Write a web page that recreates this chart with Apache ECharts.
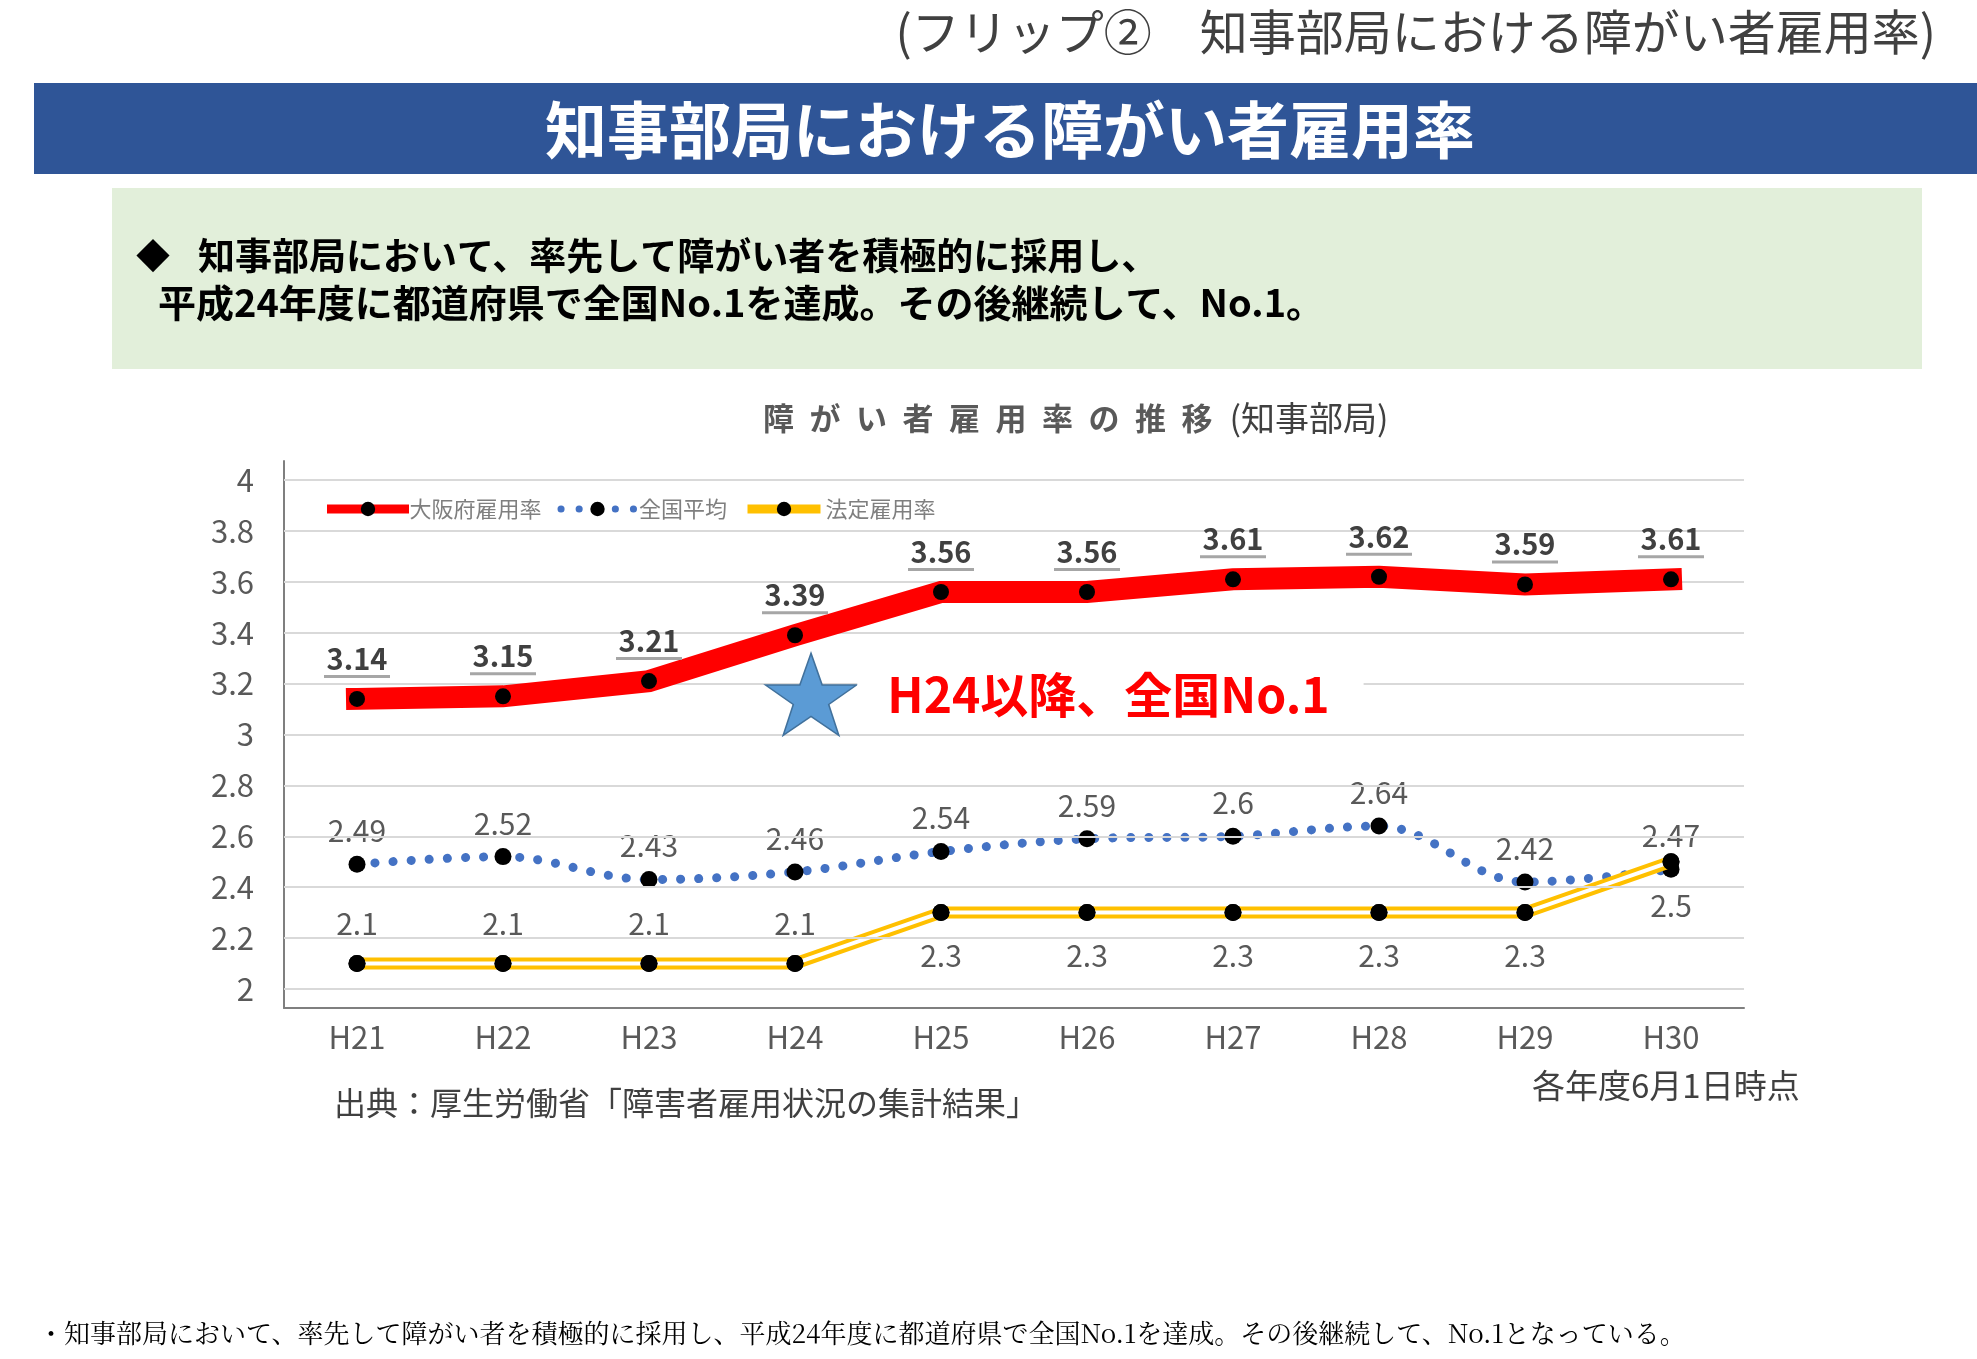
<!doctype html>
<html lang="ja">
<head>
<meta charset="UTF-8">
<title>知事部局における障がい者雇用率</title>
<script src="https://cdn.jsdelivr.net/npm/echarts@6/dist/echarts.min.js"></script>
<style>
  html, body { margin: 0; padding: 0; background: #fff; }
  #main { width: 1977px; height: 1359px; }
</style>
</head>
<body>
<div id="main"></div>
<script>
// 年度
const years = ['H21', 'H22', 'H23', 'H24', 'H25', 'H26', 'H27', 'H28', 'H29', 'H30'];
// 大阪府雇用率
const osakaRate = [3.14, 3.15, 3.21, 3.39, 3.56, 3.56, 3.61, 3.62, 3.59, 3.61];
// 全国平均
const nationalAvg = [2.49, 2.52, 2.43, 2.46, 2.54, 2.59, 2.6, 2.64, 2.42, 2.47];
// 法定雇用率
const legalRate = [2.1, 2.1, 2.1, 2.1, 2.3, 2.3, 2.3, 2.3, 2.3, 2.5];
// 縦軸の目盛
const yTicks = [2, 2.2, 2.4, 2.6, 2.8, 3, 3.2, 3.4, 3.6, 3.8, 4];
// 星マークの位置
const noteYear = 'H24';
const noteValue = 3.15;

const FONT = '"Noto Sans CJK JP", "Noto Sans", sans-serif';
const starPath = 'path://M50,0 L61.8,35.1 L98.1,35.1 L68.7,56.8 L79.4,91 L50,70 L20.6,91 L31.3,56.8 L1.9,35.1 L38.2,35.1 Z';

let myChart = echarts.init(document.getElementById('main'));

let option = {
    animation: false,
    backgroundColor: '#fff',
    textStyle: { fontFamily: FONT },
    graphic: [
        {
            type: 'text', x: 1936, y: 32,
            style: { text: '(フリップ②　知事部局における障がい者雇用率)', fill: '#404040', fontSize: 48, fontFamily: FONT, align: 'right', verticalAlign: 'middle' }
        },
        {
            type: 'rect', shape: { x: 34, y: 83, width: 1943, height: 91 },
            style: { fill: '#2f5597' }
        },
        {
            type: 'text', x: 1010, y: 130,
            style: { text: '知事部局における障がい者雇用率', fill: '#fff', fontSize: 62, fontWeight: 'bold', fontFamily: FONT, align: 'center', verticalAlign: 'middle' }
        },
        {
            type: 'rect', shape: { x: 112, y: 188, width: 1810, height: 181 },
            style: { fill: '#e2efda' }
        },
        {
            type: 'text', x: 136, y: 256,
            style: { text: '◆', fill: '#000', fontSize: 34, fontFamily: FONT, align: 'left', verticalAlign: 'middle' }
        },
        {
            type: 'text', x: 198, y: 256,
            style: { text: '知事部局において、率先して障がい者を積極的に採用し、', fill: '#000', fontSize: 37, fontWeight: 'bold', fontFamily: FONT, align: 'left', verticalAlign: 'middle' }
        },
        {
            type: 'text', x: 158, y: 303,
            style: { text: '平成24年度に都道府県で全国No.1を達成。その後継続して、No.1。', fill: '#000', fontSize: 38, fontWeight: 'bold', fontFamily: FONT, align: 'left', verticalAlign: 'middle' }
        },
        {
            type: 'text', x: 763, y: 418,
            style: {
                text: '{a|障\u2002が\u2002い\u2002者\u2002雇\u2002用\u2002率\u2002の\u2002推\u2002移}{b|\u2002(知事部局)}',
                align: 'left', verticalAlign: 'middle',
                rich: {
                    a: { fontSize: 31, fontWeight: 'bold', fill: '#595959', fontFamily: FONT },
                    b: { fontSize: 34, fill: '#404040', fontFamily: FONT }
                }
            }
        },
        {
            type: 'text', x: 334, y: 1103,
            style: { text: '出典：厚生労働省「障害者雇用状況の集計結果」', fill: '#404040', fontSize: 32, fontFamily: FONT, align: 'left', verticalAlign: 'middle' }
        },
        {
            type: 'text', x: 1532, y: 1085,
            style: { text: '各年度6月1日時点', fill: '#404040', fontSize: 33, fontFamily: FONT, align: 'left', verticalAlign: 'middle' }
        },
        {
            type: 'text', x: 38, y: 1333,
            style: { text: '・知事部局において、率先して障がい者を積極的に採用し、平成24年度に都道府県で全国No.1を達成。その後継続して、No.1となっている。', fill: '#000', fontSize: 26, fontFamily: '"Noto Serif CJK JP", ' + FONT, align: 'left', verticalAlign: 'middle' }
        }
    ],
    legend: {
        left: 322,
        top: 493,
        itemWidth: 73,
        itemHeight: 18,
        itemGap: 16,
        textStyle: { color: '#7f7f7f', fontSize: 22, fontFamily: FONT },
        data: [
            { name: '大阪府雇用率', lineStyle: { width: 9 } },
            { name: '全国平均', lineStyle: { width: 7 } },
            { name: '法定雇用率', lineStyle: { width: 9 } }
        ]
    },
    grid: { left: 284, top: 461, width: 1460, height: 547 },
    xAxis: {
        type: 'category',
        data: years,
        boundaryGap: true,
        axisTick: { show: false },
        axisLine: { lineStyle: { color: '#7f7f7f', width: 2 } },
        axisLabel: { color: '#595959', fontSize: 31, margin: 14, fontFamily: FONT }
    },
    yAxis: {
        type: 'value',
        min: 1.925,
        max: 4.075,
        splitLine: { show: false },
        axisTick: { show: false },
        axisLine: { show: true, lineStyle: { color: '#7f7f7f', width: 2 } },
        axisLabel: {
            customValues: yTicks,
            color: '#595959', fontSize: 31, margin: 30, fontFamily: FONT,
            formatter: function (v) { return String(v); }
        }
    },
    series: [
        {
            // 目盛線
            type: 'line',
            data: [],
            silent: true,
            z: 1,
            markLine: {
                silent: true,
                symbol: ['none', 'none'],
                label: { show: false },
                lineStyle: { color: '#d9d9d9', width: 2, type: 'solid' },
                data: yTicks.map(function (v) { return { yAxis: v }; })
            }
        },
        {
            name: '全国平均',
            type: 'line',
            data: nationalAvg,
            z: 3,
            smooth: 0.35,
            symbol: 'circle',
            symbolSize: 17,
            itemStyle: { color: '#000' },
            lineStyle: { color: '#4472c4', width: 9, type: [0.1, 18], cap: 'round' },
            label: {
                show: true, position: 'top', distance: 10,
                color: '#595959', fontSize: 30, fontFamily: FONT
            }
        },
        {
            name: '法定雇用率',
            type: 'line',
            data: legalRate.map(function (v, i) {
                return { value: v, label: { position: i < 4 ? 'top' : 'bottom', distance: i < 4 ? 16 : 20 } };
            }),
            z: 4,
            symbol: 'circle',
            symbolSize: 17,
            itemStyle: { color: '#000' },
            lineStyle: { color: '#ffc000', width: 12 },
            label: {
                show: true,
                color: '#595959', fontSize: 30, fontFamily: FONT
            }
        },
        {
            // 法定雇用率の二重線の中央
            type: 'line',
            data: legalRate,
            z: 4,
            silent: true,
            symbol: 'circle',
            symbolSize: 17,
            itemStyle: { color: '#000' },
            lineStyle: { color: '#fff', width: 4 }
        },
        {
            name: '大阪府雇用率',
            type: 'line',
            data: osakaRate,
            z: 5,
            symbol: 'circle',
            symbolSize: 16,
            itemStyle: { color: '#000' },
            lineStyle: { color: '#ff0000', width: 22, cap: 'square', join: 'miter' },
            label: {
                show: true, position: 'top', distance: 12,
                formatter: function (p) { return '{v|' + p.value + '}\n{u|}'; },
                rich: {
                    v: { fontSize: 29, fontWeight: 'bold', color: '#404040', lineHeight: 30, fontFamily: FONT },
                    u: { width: 66, height: 3, lineHeight: 5, backgroundColor: '#a6a6a6' }
                }
            },
            markPoint: {
                silent: true,
                symbol: starPath,
                symbolSize: [91, 82],
                symbolOffset: [16, -2],
                itemStyle: { color: '#5b9bd5', borderColor: '#41719c', borderWidth: 1.5 },
                label: {
                    show: true,
                    position: 'right',
                    distance: 0,
                    formatter: 'H24以降、全国No.1',
                    color: '#ff0000',
                    fontSize: 48,
                    fontWeight: 'bold',
                    fontFamily: FONT,
                    lineHeight: 56,
                    backgroundColor: '#fff',
                    padding: [6, 34, 6, 30]
                },
                data: [{ coord: [noteYear, noteValue] }]
            }
        }
    ]
};
myChart.setOption(option);
</script>
</body>
</html>
